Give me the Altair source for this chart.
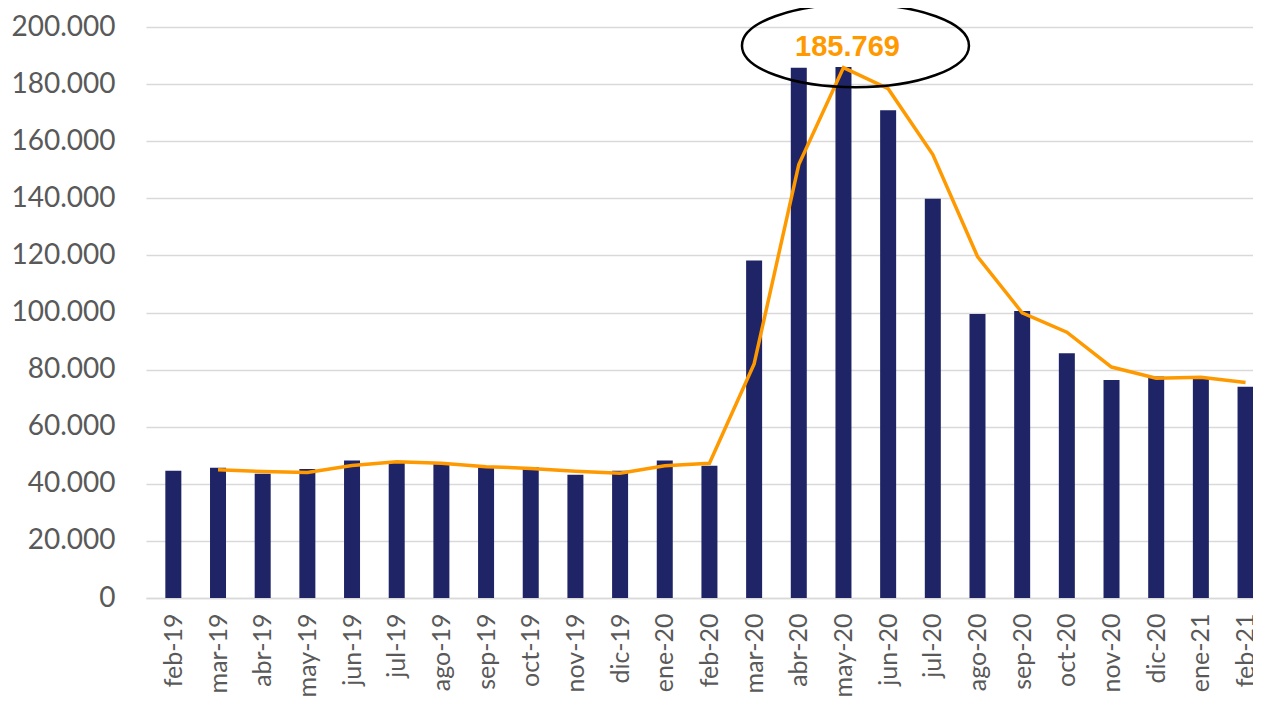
import json
import altair as alt
import pandas as pd

# ---- data ----
months = ["feb-19", "mar-19", "abr-19", "may-19", "jun-19", "jul-19", "ago-19",
          "sep-19", "oct-19", "nov-19", "dic-19", "ene-20", "feb-20", "mar-20",
          "abr-20", "may-20", "jun-20", "jul-20", "ago-20", "sep-20", "oct-20",
          "nov-20", "dic-20", "ene-21", "feb-21"]

bar_values = [44600, 45600, 43500, 45200, 48200, 47500, 47200, 45700, 45800,
              43200, 44600, 48200, 46300, 118200, 185700, 186000, 170800,
              139800, 99500, 100500, 85700, 76400, 77600, 77000, 74000]

# orange line (starts at mar-19)
line_months = months[1:]
line_values = [44900, 44300, 44000, 46400, 47700, 47200, 46000, 45400, 44400,
               43700, 46300, 47200, 82000, 151800, 185769, 178400, 155300,
               119600, 99900, 93100, 80900, 77000, 77300, 75500]

y_ticks = [0, 20000, 40000, 60000, 80000, 100000, 120000, 140000, 160000,
           180000, 200000]

annot_month = "may-20"
annot_value = 185769
annot_label = "185.769"

# ---- tables ----
bars_df = pd.DataFrame({"i": list(range(len(months))), "m": months, "v": bar_values})
line_df = pd.DataFrame({"i": [months.index(m) for m in line_months],
                        "m": line_months, "v": line_values})
ann_df = pd.DataFrame({"i": [months.index(annot_month)], "v": [annot_value],
                       "t": [annot_label]})

NAVY = "#1F2466"
ORANGE = "#FF9900"
GRID = "#D9D9D9"
LABEL = "#595959"
FONT = "Lato"

label_expr = json.dumps(months) + "[round(datum.value)]"

x_scale = alt.Scale(domain=[-0.5, 24.055], nice=False, zero=False)
y_scale = alt.Scale(domain=[0, 200000], nice=False)

x_axis = alt.Axis(values=list(range(len(months))), labelExpr=label_expr,
                  labelAngle=270, grid=False, ticks=False, tickSize=0,
                  domain=True, domainColor=GRID, domainWidth=1.5,
                  labelFontSize=25, labelColor=LABEL, labelFont=FONT,
                  labelPadding=15, labelOverlap=False, labelFlush=False,
                  labelBound=False, title=None)
y_axis = alt.Axis(values=y_ticks,
                  labelExpr="replace(format(datum.value, ','), ',', '.')",
                  grid=True, gridColor=GRID, gridWidth=1.5, ticks=False,
                  tickSize=0, domain=False, labelFontSize=28, labelColor=LABEL,
                  labelFont=FONT, labelPadding=31, title=None)

bars = alt.Chart(bars_df).mark_bar(size=16, color=NAVY).encode(
    x=alt.X("i:Q", scale=x_scale, axis=x_axis),
    y=alt.Y("v:Q", scale=y_scale, axis=y_axis),
)

line = alt.Chart(line_df).mark_line(color=ORANGE, strokeWidth=3.5).encode(
    x=alt.X("i:Q", scale=x_scale),
    y=alt.Y("v:Q", scale=y_scale),
)

ellipse_path = "M -1 0 A 1 0.366 0 1 1 1 0 A 1 0.366 0 1 1 -1 0 Z"
ellipse = alt.Chart(ann_df).mark_point(
    shape=ellipse_path, size=51529, filled=False, color="black",
    strokeWidth=2.5, opacity=1, xOffset=12, yOffset=-22
).encode(
    x=alt.X("i:Q", scale=x_scale),
    y=alt.Y("v:Q", scale=y_scale),
)

text = alt.Chart(ann_df).mark_text(
    font="Liberation Sans", fontWeight="bold", fontSize=29, color=ORANGE,
    dx=4, dy=-21, baseline="middle", align="center"
).encode(
    x=alt.X("i:Q", scale=x_scale),
    y=alt.Y("v:Q", scale=y_scale),
    text="t:N",
)

chart = alt.layer(bars, line, ellipse, text).properties(
    width=1107, height=571,
    autosize=alt.AutoSizeParams(type="none"),
    padding={"left": 138, "top": 19, "right": 0, "bottom": 100},
    background="white",
).configure_view(stroke=None)

chart.save("out.html", embed_options={"renderer": "svg", "actions": False})
